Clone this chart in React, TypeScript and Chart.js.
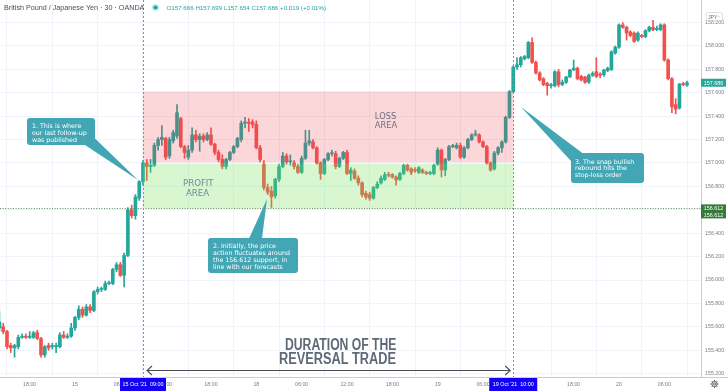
import React, { useEffect, useRef } from "react";
import { Chart, registerables } from "chart.js";
Chart.register(...registerables);

// ---- DATA (30-minute GBP/JPY candles, index 0 = 15 Oct 00:00) ----
const FIRST_INDEX = -20;
const opens = [
  155.59,155.60,155.56,155.44,155.42,155.43,155.51,155.52,155.51,155.51,
  155.55,155.50,155.36,155.44,155.43,155.43,155.43,155.53,155.51,155.52,
  155.59,155.68,155.75,155.70,155.77,155.74,155.90,155.92,155.92,155.97,
  155.97,156.09,156.13,156.04,156.21,156.60,156.55,156.70,156.84,157.00,
  156.97,156.98,157.15,157.20,157.21,157.06,157.19,157.23,157.38,157.14,
  157.05,157.11,157.24,157.20,157.23,157.20,157.24,157.16,157.09,157.03,
  156.97,157.03,157.09,157.14,157.20,157.34,157.35,157.35,157.33,157.13,
  156.99,156.79,156.76,156.72,156.86,156.97,157.06,157.01,157.00,156.97,
  156.92,157.04,157.17,157.18,157.13,157.00,156.91,157.03,157.08,157.08,
  156.97,157.04,157.09,156.91,156.93,156.87,156.83,156.74,156.73,156.70,
  156.79,156.83,156.86,156.90,156.90,156.88,156.86,156.91,156.98,156.95,
  156.94,156.92,156.94,156.92,156.91,156.91,156.99,157.11,156.94,157.03,
  157.14,157.13,157.15,157.05,157.13,157.20,157.24,157.24,157.18,157.14,
  157.00,156.95,157.085,157.13,157.18,157.39,157.61,157.82,157.84,157.89,
  157.90,158.03,157.86,157.77,157.72,157.68,157.66,157.66,157.78,157.67,
  157.69,157.735,157.795,157.81,157.74,157.735,157.69,157.75,157.78,157.76,
  157.755,157.79,157.80,157.94,157.99,158.18,158.16,158.12,158.11,158.05,
  158.09,158.08,158.13,158.16,158.14,158.14,158.18,157.88,157.72,157.50,
  157.47,157.675,157.666,
];
const highs = [
  155.73,155.63,155.57,155.46,155.45,155.53,155.54,155.54,155.56,155.56,
  155.57,155.51,155.44,155.46,155.46,155.46,155.55,155.56,155.54,155.63,
  155.69,155.78,155.77,155.79,155.79,155.91,155.94,155.94,155.99,155.99,
  156.10,156.15,156.15,156.23,156.62,156.64,156.73,156.85,157.02,157.03,
  157.03,157.17,157.22,157.32,157.22,157.22,157.28,157.50,157.39,157.15,
  157.15,157.30,157.28,157.25,157.25,157.26,157.30,157.17,157.11,157.07,
  157.04,157.10,157.15,157.22,157.36,157.39,157.38,157.37,157.36,157.15,
  157.02,156.82,156.80,156.87,156.99,157.09,157.08,157.07,157.02,156.99,
  157.06,157.28,157.28,157.20,157.14,157.01,157.04,157.09,157.11,157.10,
  157.05,157.10,157.11,156.96,156.95,156.89,156.84,156.76,156.75,156.80,
  156.84,156.89,156.92,156.92,156.91,156.89,156.92,156.99,156.99,156.96,
  156.96,156.97,156.95,156.93,156.93,156.99,157.13,157.12,157.04,157.15,
  157.16,157.17,157.17,157.14,157.21,157.25,157.28,157.25,157.19,157.15,
  157.01,157.10,157.14,157.19,157.40,157.62,157.83,157.90,157.91,157.92,
  158.04,158.07,157.87,157.78,157.73,157.69,157.68,157.79,157.80,157.71,
  157.74,157.80,157.88,157.82,157.75,157.74,157.76,157.78,157.90,157.77,
  157.80,157.82,157.96,158.00,158.19,158.20,158.17,158.13,158.12,158.12,
  158.10,158.14,158.17,158.22,158.17,158.19,158.19,157.89,157.73,157.55,
  157.68,157.69,157.699,
];
const lows = [
  155.56,155.54,155.41,155.38,155.34,155.41,155.50,155.50,155.50,155.50,
  155.49,155.34,155.34,155.40,155.41,155.38,155.42,155.50,155.50,155.51,
  155.57,155.66,155.68,155.69,155.72,155.73,155.88,155.90,155.91,155.96,
  155.96,156.07,156.03,155.94,156.20,156.53,156.52,156.68,156.81,156.85,
  156.92,156.97,157.11,157.15,157.03,157.04,157.17,157.21,157.13,157.04,
  157.03,157.09,157.18,157.10,157.18,157.19,157.15,157.07,157.01,156.95,
  156.95,157.02,157.08,157.13,157.18,157.30,157.27,157.30,157.12,157.01,
  156.77,156.73,156.62,156.70,156.84,156.96,156.99,156.98,156.95,156.91,
  156.91,157.03,157.15,157.12,156.99,156.86,156.90,157.02,157.06,156.95,
  156.96,157.03,156.90,156.85,156.86,156.81,156.71,156.69,156.68,156.69,
  156.78,156.82,156.85,156.88,156.87,156.81,156.85,156.90,156.93,156.90,
  156.92,156.91,156.91,156.90,156.90,156.90,156.98,156.88,156.89,157.02,
  157.13,157.12,157.04,157.04,157.12,157.19,157.23,157.17,157.13,156.99,
  156.93,156.94,157.07,157.09,157.17,157.38,157.60,157.80,157.82,157.88,
  157.89,157.85,157.76,157.70,157.66,157.58,157.64,157.65,157.65,157.66,
  157.68,157.73,157.79,157.71,157.70,157.68,157.68,157.74,157.73,157.73,
  157.74,157.78,157.79,157.93,157.98,158.15,158.05,158.08,158.03,158.04,
  158.07,158.07,158.12,158.13,158.13,158.13,157.87,157.71,157.43,157.42,
  157.46,157.66,157.654,
];
const closes = [
  155.64,155.56,155.43,155.42,155.44,155.51,155.52,155.51,155.52,155.55,
  155.50,155.36,155.43,155.42,155.44,155.44,155.53,155.51,155.52,155.59,
  155.68,155.75,155.70,155.77,155.74,155.90,155.92,155.925,155.97,155.975,
  156.09,156.13,156.04,156.21,156.60,156.55,156.71,156.84,157.00,156.97,
  156.98,157.15,157.20,157.22,157.05,157.20,157.26,157.43,157.14,157.09,
  157.11,157.24,157.20,157.23,157.20,157.24,157.16,157.09,157.03,156.97,
  157.03,157.09,157.14,157.21,157.34,157.35,157.34,157.33,157.13,157.03,
  156.79,156.75,156.71,156.86,156.97,157.06,157.01,157.015,156.97,156.92,
  157.04,157.17,157.19,157.13,157.00,156.91,157.03,157.08,157.085,156.97,
  157.04,157.09,156.91,156.94,156.87,156.83,156.73,156.71,156.70,156.79,
  156.82,156.87,156.90,156.895,156.88,156.855,156.91,156.98,156.94,156.92,
  156.935,156.96,156.92,156.91,156.915,156.98,157.11,156.94,157.03,157.14,
  157.145,157.15,157.05,157.13,157.20,157.24,157.245,157.18,157.14,157.00,
  156.94,157.085,157.13,157.18,157.39,157.61,157.82,157.84,157.90,157.91,
  158.03,157.86,157.77,157.71,157.67,157.66,157.665,157.78,157.67,157.69,
  157.735,157.795,157.81,157.72,157.71,157.69,157.75,157.765,157.74,157.75,
  157.795,157.81,157.95,157.99,158.18,158.16,158.11,158.09,158.04,158.11,
  158.08,158.13,158.16,158.14,158.15,158.18,157.88,157.72,157.48,157.46,
  157.675,157.67,157.686,
];

const xTickPositions = [-12, 0, 12, 24, 36, 48, 60, 72, 84, 96, 108, 120, 132, 144, 156];
const xTickLabels = ["18:00", "15", "06:00", "12:00", "18:00", "18", "06:00", "12:00", "18:00", "19", "06:00", "12:00", "18:00", "20", "06:00"];
const yTickValues = [155.2, 155.4, 155.6, 155.8, 156.0, 156.2, 156.4, 156.6, 156.8, 157.0, 157.2, 157.4, 157.6, 157.8, 158.0, 158.2];

const supportLevel = 156.612;
const entryLevel = 157.0;
const stopLevel = 157.61;
const entryIndex = 18; // 15 Oct '21 09:00
const exitIndex = 116; // 19 Oct '21 10:00
const entryLabel = "15 Oct '21  09:00";
const exitLabel = "19 Oct '21  10:00";
const lastPrice = 157.686;
const titleText = "British Pound / Japanese Yen · 30 · OANDA";
const ohlcText = "O157.666 H157.699 L157.654 C157.686 +0.019 (+0.01%)";

const callout1 = ["1. This is where", "our last follow-up", "was published"];
const callout2 = ["2. Initially, the price", "action fluctuates around", "the 156.612 support, in", "line with our forecasts"];
const callout3 = ["3. The snap bullish", "rebound hits the", "stop-loss order"];

const X_MIN = -19.85;
const X_MAX = 165.7;
const Y_MIN = 155.171;
const Y_MAX = 158.393;

const UP = "#26a69a";
const DOWN = "#ef5350";
const CALLOUT = "#42a6b4";

function roundRect(ctx: CanvasRenderingContext2D, x: number, y: number, w: number, h: number, r: number) {
  ctx.moveTo(x + r, y);
  ctx.lineTo(x + w - r, y);
  ctx.quadraticCurveTo(x + w, y, x + w, y + r);
  ctx.lineTo(x + w, y + h - r);
  ctx.quadraticCurveTo(x + w, y + h, x + w - r, y + h);
  ctx.lineTo(x + r, y + h);
  ctx.quadraticCurveTo(x, y + h, x, y + h - r);
  ctx.lineTo(x, y + r);
  ctx.quadraticCurveTo(x, y, x + r, y);
  ctx.closePath();
}

function drawCallout(
  ctx: CanvasRenderingContext2D,
  box: [number, number, number, number],
  pointer: [number, number][],
  lines: string[],
  tx: number,
  ty: number,
  lh: number
) {
  ctx.save();
  ctx.fillStyle = CALLOUT;
  ctx.beginPath();
  roundRect(ctx, box[0], box[1], box[2], box[3], 3);
  ctx.fill();
  ctx.beginPath();
  ctx.moveTo(pointer[0][0], pointer[0][1]);
  ctx.lineTo(pointer[1][0], pointer[1][1]);
  ctx.lineTo(pointer[2][0], pointer[2][1]);
  ctx.closePath();
  ctx.fill();
  ctx.fillStyle = "#ffffff";
  ctx.font = '6.3px "DejaVu Sans"';
  ctx.textAlign = "left";
  ctx.textBaseline = "alphabetic";
  lines.forEach((s, k) => ctx.fillText(s, tx, ty + k * lh));
  ctx.restore();
}

function fitText(ctx: CanvasRenderingContext2D, s: string, left: number, baseline: number, width: number) {
  const w = ctx.measureText(s).width;
  ctx.save();
  ctx.translate(left, baseline);
  ctx.scale(width / w, 1);
  ctx.fillText(s, 0, 0);
  ctx.restore();
}

function badge(ctx: CanvasRenderingContext2D, x: number, y: number, w: number, h: number, color: string, lines: string[], font: string) {
  ctx.save();
  ctx.fillStyle = color;
  ctx.fillRect(x, y, w, h);
  ctx.fillStyle = "#ffffff";
  ctx.font = font;
  ctx.textAlign = "center";
  ctx.textBaseline = "middle";
  const lh = h / lines.length;
  lines.forEach((s, k) => ctx.fillText(s, x + w / 2, y + lh * (k + 0.5) + 0.3));
  ctx.restore();
}

const overlayPlugin = {
  id: "overlay",
  afterDatasetsDraw(chart: any) {
    const { ctx } = chart;
    const xs = chart.scales.x;
    const ys = chart.scales.y;
    const x1 = xs.getPixelForValue(entryIndex);
    const x2 = xs.getPixelForValue(exitIndex);
    const yStop = ys.getPixelForValue(stopLevel);
    const yEntry = ys.getPixelForValue(entryLevel);
    const ySup = ys.getPixelForValue(supportLevel);
    ctx.save();
    ctx.fillStyle = "rgba(242, 54, 69, 0.2)";
    ctx.fillRect(x1, yStop, x2 - x1, yEntry - yStop - 0.7);
    ctx.fillStyle = "rgba(110, 225, 80, 0.27)";
    ctx.fillRect(x1, yEntry + 0.7, x2 - x1, ySup - yEntry - 0.7);
    ctx.restore();
  },
  afterDraw(chart: any) {
    const { ctx, chartArea } = chart;
    const xs = chart.scales.x;
    const ys = chart.scales.y;
    const x1 = xs.getPixelForValue(entryIndex);
    const x2 = xs.getPixelForValue(exitIndex);
    const ySup = ys.getPixelForValue(supportLevel);
    const yLast = ys.getPixelForValue(lastPrice);
    ctx.save();

    // support dotted line
    ctx.strokeStyle = "#5f8a62";
    ctx.lineWidth = 1;
    ctx.setLineDash([1, 1.6]);
    ctx.beginPath();
    ctx.moveTo(chartArea.left, Math.round(ySup) + 0.5);
    ctx.lineTo(chartArea.right, Math.round(ySup) + 0.5);
    ctx.stroke();

    // vertical dotted lines
    ctx.strokeStyle = "#8484e2";
    ctx.setLineDash([2, 2]);
    [x1, x2].forEach((xv) => {
      ctx.beginPath();
      ctx.moveTo(Math.round(xv) + 0.5, chartArea.top);
      ctx.lineTo(Math.round(xv) + 0.5, chartArea.bottom);
      ctx.stroke();
    });
    ctx.setLineDash([]);

    // area labels
    ctx.textAlign = "center";
    ctx.textBaseline = "alphabetic";
    ctx.font = '8.3px "DejaVu Sans"';
    ctx.fillStyle = "#6c6e7c";
    ctx.fillText("LOSS", 385.5, 118.5);
    ctx.fillText("AREA", 386, 128);
    ctx.font = '8.6px "DejaVu Sans"';
    ctx.fillStyle = "#6e8b9b";
    ctx.fillText("PROFIT", 198.3, 186.3);
    ctx.fillText("AREA", 197.5, 196.2);

    // duration text
    ctx.textAlign = "left";
    ctx.fillStyle = "#5e6a77";
    ctx.font = 'bold 16px "Liberation Sans"';
    fitText(ctx, "DURATION OF THE", 285, 350, 111.5);
    fitText(ctx, "REVERSAL TRADE", 279, 364, 117);

    // arrow
    ctx.strokeStyle = "#474d55";
    ctx.lineWidth = 1.1;
    const ay = 370.5;
    ctx.beginPath();
    ctx.moveTo(x1 + 4, ay);
    ctx.lineTo(x2 - 3, ay);
    ctx.moveTo(x1 + 9, ay - 4.5);
    ctx.lineTo(x1 + 4, ay);
    ctx.lineTo(x1 + 9, ay + 4.5);
    ctx.moveTo(x2 - 8, ay - 4.5);
    ctx.lineTo(x2 - 3, ay);
    ctx.lineTo(x2 - 8, ay + 4.5);
    ctx.stroke();

    // callouts
    drawCallout(ctx, [27, 118, 68, 27], [[85, 145], [95, 138.5], [138, 180]], callout1, 32, 128.3, 7);
    drawCallout(ctx, [208, 238, 90, 35], [[249, 238.5], [262, 238.5], [267, 199]], callout2, 213, 247.5, 7);
    drawCallout(ctx, [571, 153, 73, 30], [[571, 161], [583, 153.5], [521, 107]], callout3, 575, 163.5, 6.7);

    // x-axis baseline extension under price axis
    ctx.strokeStyle = "#c9ccd3";
    ctx.lineWidth = 1;
    ctx.beginPath();
    ctx.moveTo(chartArea.right, chartArea.bottom + 0.5);
    ctx.lineTo(728, chartArea.bottom + 0.5);
    ctx.stroke();

    // price badges
    badge(ctx, chartArea.right, yLast - 4, 25, 8, UP, [lastPrice.toFixed(3)], '5.4px "Liberation Sans"');
    badge(ctx, chartArea.right, ySup - 4, 25, 14, "#357a38", [supportLevel.toFixed(3), supportLevel.toFixed(3)], '5.4px "Liberation Sans"');

    // date badges
    badge(ctx, x1 - 23, chartArea.bottom + 1, 46, 13, "#1400f5", [entryLabel], '5.4px "Liberation Sans"');
    badge(ctx, x2 - 24, chartArea.bottom + 1, 48, 13, "#1400f5", [exitLabel], '5.4px "Liberation Sans"');

    // title
    ctx.textAlign = "left";
    ctx.textBaseline = "alphabetic";
    ctx.fillStyle = "#4a4e59";
    ctx.font = '7.2px "Liberation Sans"';
    ctx.fillText(titleText, 4, 10.2);
    ctx.fillStyle = "rgba(38,166,154,0.25)";
    ctx.beginPath();
    ctx.arc(155.5, 7.5, 3.6, 0, Math.PI * 2);
    ctx.fill();
    ctx.fillStyle = UP;
    ctx.beginPath();
    ctx.arc(155.5, 7.5, 2.1, 0, Math.PI * 2);
    ctx.fill();
    ctx.font = '6.2px "Liberation Sans"';
    ctx.fillStyle = "#26a69a";
    ctx.fillText(ohlcText, 166.5, 9.8);

    // JPY selector
    ctx.strokeStyle = "#d6d8de";
    ctx.lineWidth = 0.8;
    ctx.beginPath();
    roundRect(ctx, 706, 12.5, 16.5, 8.5, 2);
    ctx.stroke();
    ctx.fillStyle = "#6a6d78";
    ctx.font = '5.2px "Liberation Sans"';
    ctx.fillText("JPY", 708, 18.6);
    ctx.beginPath();
    ctx.moveTo(717.6, 15.8);
    ctx.lineTo(718.9, 17.2);
    ctx.lineTo(720.2, 15.8);
    ctx.stroke();

    // gear icon
    ctx.strokeStyle = "#5b5f6a";
    ctx.lineWidth = 1;
    const gx = 714.5, gy = 384;
    ctx.beginPath();
    ctx.arc(gx, gy, 2.6, 0, Math.PI * 2);
    ctx.stroke();
    ctx.beginPath();
    for (let k = 0; k < 8; k++) {
      const a = (k * Math.PI) / 4;
      ctx.moveTo(gx + Math.cos(a) * 2.6, gy + Math.sin(a) * 2.6);
      ctx.lineTo(gx + Math.cos(a) * 4, gy + Math.sin(a) * 4);
    }
    ctx.stroke();
    ctx.beginPath();
    ctx.arc(gx, gy, 1, 0, Math.PI * 2);
    ctx.stroke();

    ctx.restore();
  },
};

export default function App() {
  const ref = useRef<HTMLCanvasElement>(null);
  useEffect(() => {
    const canvas = ref.current;
    if (!canvas) return;
    const idx = opens.map((_, k) => FIRST_INDEX + k);
    const colors = opens.map((o, k) => (closes[k] >= o ? UP : DOWN));
    const chart = new Chart(canvas, {
      type: "bar",
      data: {
        datasets: [
          {
            label: "wicks",
            data: idx.map((x, k) => ({ x, y: [lows[k], highs[k]] })) as any,
            backgroundColor: colors,
            borderWidth: 0,
            barThickness: 1,
            grouped: false,
            order: 2,
          },
          {
            label: "bodies",
            data: idx.map((x, k) => ({ x, y: [opens[k], closes[k]] })) as any,
            backgroundColor: colors,
            borderWidth: 0,
            barThickness: 3,
            minBarLength: 1,
            grouped: false,
            order: 1,
          },
        ],
      },
      options: {
        responsive: false,
        animation: false,
        layout: { padding: 0 },
        plugins: { legend: { display: false }, tooltip: { enabled: false } },
        scales: {
          x: {
            type: "linear",
            min: X_MIN,
            max: X_MAX,
            offset: false,
            grid: { color: "#f0f3fa", drawTicks: false },
            border: { display: true, color: "#c9ccd3" },
            ticks: {
              autoSkip: false,
              maxRotation: 0,
              padding: 4,
              color: "#7b7e87",
              font: { size: 5.3, family: "Liberation Sans" },
              callback: (v: any) => {
                const k = xTickPositions.indexOf(Number(v));
                return k >= 0 ? xTickLabels[k] : "";
              },
            },
            afterBuildTicks: (s: any) => {
              s.ticks = xTickPositions.map((v) => ({ value: v }));
            },
            afterFit: (s: any) => {
              s.height = 14;
              s.paddingLeft = 0;
              s.paddingRight = 0;
            },
          },
          y: {
            type: "linear",
            position: "right",
            min: Y_MIN,
            max: Y_MAX,
            grid: { color: "#f0f3fa", drawTicks: false },
            border: { display: true, color: "#c9ccd3" },
            ticks: {
              padding: 4,
              color: "#7b7e87",
              font: { size: 5.3, family: "Liberation Sans" },
              callback: (v: any) => Number(v).toFixed(3),
            },
            afterBuildTicks: (s: any) => {
              s.ticks = yTickValues.map((v) => ({ value: v }));
            },
            afterFit: (s: any) => {
              s.width = 27;
              s.paddingTop = 0;
              s.paddingBottom = 0;
            },
          },
        },
      },
      plugins: [overlayPlugin],
    });
    return () => chart.destroy();
  }, []);
  return (
    <div style={{ position: "absolute", left: 0, top: 0, width: 728, height: 391, background: "#ffffff" }}>
      <canvas ref={ref} width={728} height={391} style={{ display: "block", width: 728, height: 391 }} />
    </div>
  );
}
